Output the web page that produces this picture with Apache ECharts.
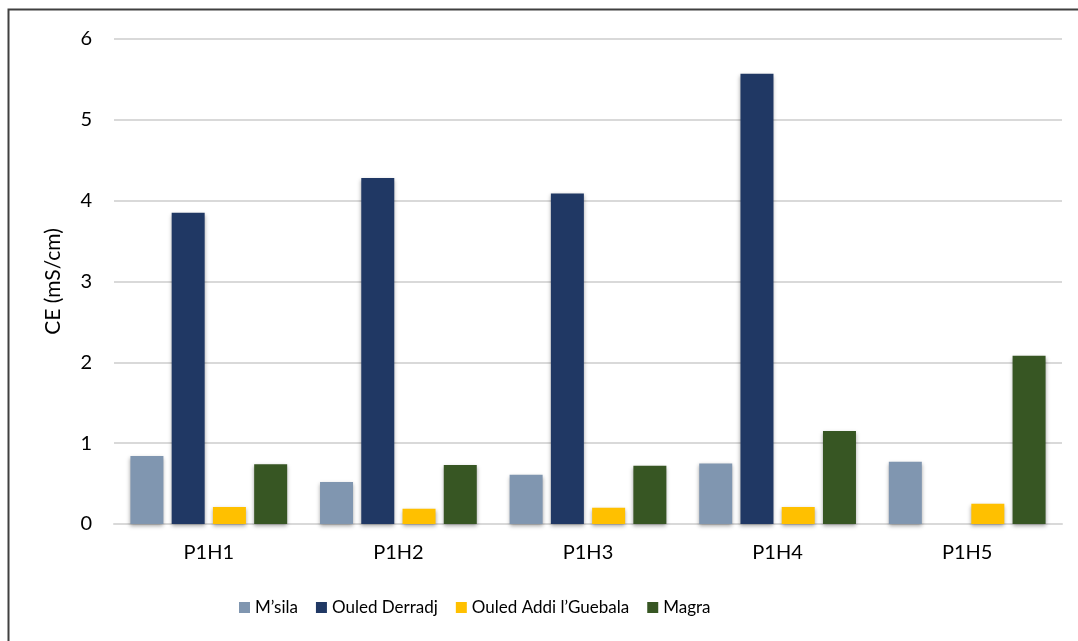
<!DOCTYPE html>
<html><head><meta charset="utf-8">
<script src="https://cdn.jsdelivr.net/npm/echarts@6/dist/echarts.min.js"></script>
<style>html,body{margin:0;padding:0;background:#fff;}#c{width:1078px;height:641px;}</style>
</head><body><div id="c"></div>
<script>
const categories = ['P1H1','P1H2','P1H3','P1H4','P1H5'];
const msila = [0.84, 0.52, 0.61, 0.75, 0.77];
const ouledDerradj = [3.85, 4.28, 4.09, 5.57, 0];
const ouledAddi = [0.21, 0.19, 0.20, 0.21, 0.25];
const magra = [0.74, 0.73, 0.72, 1.15, 2.08];
const seriesNames = ['M\u2019sila','Ouled Derradj','Ouled Addi l\u2019Guebala','Magra'];
const colors = ['#8096B0','#203864','#FFC000','#375623'];
const yTicks = [0,1,2,3,4,5,6];

const font = 'Lato';
const chart = echarts.init(document.getElementById('c'), null, {renderer:'canvas'});
const data = [msila, ouledDerradj, ouledAddi, magra];
chart.setOption({
  animation:false,
  backgroundColor:'#fff',
  textStyle:{fontFamily:font,fontSize:18},
  graphic:[{type:'rect', shape:{x:8.5,y:9.5,width:1200,height:1000}, style:{fill:'none',stroke:'#404040',lineWidth:2}, z:-1}],
  grid:{left:114,right:16,top:39,bottom:117},
  legend:{
    bottom:20, left:234, itemWidth:11, itemHeight:11, itemGap:18, icon:'rect',
    textStyle:{fontFamily:font,fontSize:17,color:'#000'},
    data:seriesNames
  },
  xAxis:{type:'category', data:categories,
    axisLine:{lineStyle:{color:'#D9D9D9',width:2}}, axisTick:{show:false},
    axisLabel:{fontFamily:font,fontSize:20,color:'#000',margin:19}},
  yAxis:{type:'value', min:0, max:6, interval:1,
    name:'CE (mS/cm)', nameLocation:'middle', nameGap:50, nameRotate:90,
    nameTextStyle:{fontFamily:font,fontSize:21,color:'#000'},
    axisLabel:{fontFamily:font,fontSize:20,color:'#000',margin:22,
      formatter:v=>yTicks.includes(v)?String(v):''},
    axisLine:{show:false}, axisTick:{show:false},
    splitLine:{lineStyle:{color:'#D9D9D9',width:2}}},
  series: seriesNames.map((n,i)=>({
    name:n, type:'bar', data:data[i], barWidth:33, barGap:'25%', barCategoryGap:'17%',
    itemStyle:{color:colors[i], shadowBlur:4, shadowColor:'rgba(0,0,0,0.35)', shadowOffsetY:2}
  }))
});
</script></body></html>
